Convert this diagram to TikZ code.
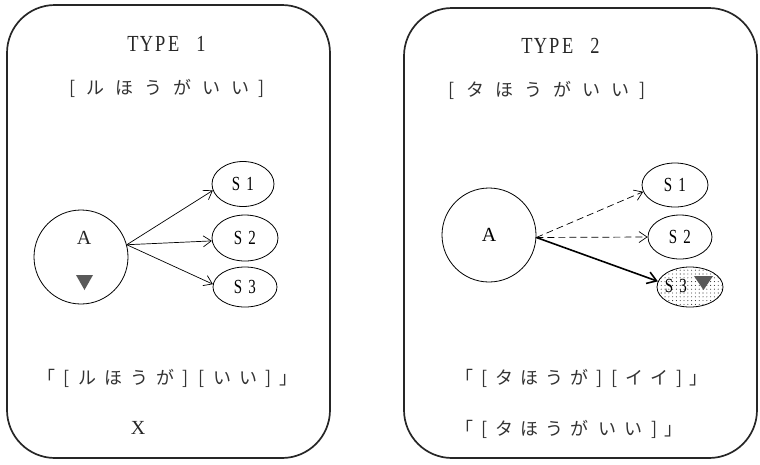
\documentclass[tikz,border=0pt]{standalone}
\usepackage{fontspec}
\setmainfont{Liberation Serif}
\newfontfamily\jp{Noto Sans CJK JP}
\usetikzlibrary{arrows.meta,patterns,shapes.geometric}

% sparse dot fill for the chosen state
\pgfdeclarepatternformonly{sdots}{\pgfpoint{-1pt}{-1pt}}{\pgfpoint{1pt}{1pt}}{\pgfpoint{3.8pt}{3.8pt}}%
  {\pgfpathcircle{\pgfpointorigin}{0.55pt}\pgfusepath{fill}}

% fixed-pitch typesetting: each character is centred in its own cell;
% brackets get a narrower cell than the kana
\newlength\cellw
\newlength\brw
\newlength\tmpw
\makeatletter
\def\spaced#1#2#3#4{\setlength\cellw{#1}\setlength\brw{#2}\def\cellscale{#3}\spaced@i#4\relax}
\def\spaced@i#1{\ifx#1\relax\else\spaced@cell{#1}\expandafter\spaced@i\fi}
\def\spaced@cell#1{\setlength\tmpw{\cellw}%
  \ifx#1[\setlength\tmpw{\brw}\fi
  \ifx#1]\setlength\tmpw{\brw}\fi
  \ifx#1｢\setlength\tmpw{\brw}\fi
  \ifx#1｣\setlength\tmpw{\brw}\fi
  \makebox[\tmpw]{\scalebox{\cellscale}[1]{#1}}}
\makeatother

\tikzset{
  panel/.style={draw=black!85, line width=1.7pt, rounded corners=48pt},
  jptext/.style={font=\jp\fontsize{18}{18}\selectfont, inner sep=0pt, text=black!80},
  head/.style={font=\fontsize{23}{23}\selectfont, inner sep=0pt, text=black!85},
  roman/.style={font=\fontsize{20}{20}\selectfont, inner sep=0pt, text=black!85},
  bigcirc/.style={draw, circle, minimum size=94pt, inner sep=0pt, line width=0.8pt},
  sbox/.style={draw, ellipse, inner sep=0pt, line width=0.8pt, font=\fontsize{20}{20}\selectfont},
  slabel/.style={font=\fontsize{20}{20}\selectfont, inner sep=0pt},
  arr/.style={line width=0.7pt, -{Straight Barb[length=8pt,width=11pt]}},
  darr/.style={arr, dash pattern=on 7pt off 4pt},
  barr/.style={line width=1.6pt, -{Straight Barb[length=9pt,width=12pt]}},
  marker/.style={fill=black!65},
}

\begin{document}
\begin{tikzpicture}[x=1pt, y=-1pt]
\useasboundingbox (0,0) rectangle (760,464);

% ---------- panel 1 ----------
\draw[panel] (7,5) rectangle (330,458);
\node[head] (h1) at (167,44) {\spaced{13.6pt}{13.6pt}{0.8}{TYPE~1}};
\node[jptext] (q1) at (167.5,88) {\spaced{29pt}{15pt}{1}{[ルほうがいい]}};

\node[bigcirc] (A1) at (81,257) {};
\node[roman] (A1l) at (84,238) {A};
\fill[marker] (76,275) -- (93,275) -- (84.5,290) -- cycle;

\node[sbox, minimum width=62pt, minimum height=45pt] (S11) at (243,184) {\spaced{14pt}{14pt}{0.75}{S1}};
\node[sbox, minimum width=66pt, minimum height=46pt] (S12) at (245,238) {\spaced{14pt}{14pt}{0.75}{S2}};
\node[sbox, minimum width=64pt, minimum height=40pt] (S13) at (245,287) {\spaced{14pt}{14pt}{0.75}{S3}};

\coordinate (o1) at (A1.15);
\draw[arr] (o1) -- (S11.192);
\draw[arr] (o1) -- (S12.185);
\draw[arr] (o1) -- (S13.175);

\node[jptext] (r1) at (167.5,378) {\spaced{26pt}{15.5pt}{1}{｢[ルほうが][いい]｣}};
\node[roman] (x1) at (138,428) {X};

% ---------- panel 2 ----------
\draw[panel] (404,8) rectangle (757,458);
\node[head] (h2) at (561,46) {\spaced{13.6pt}{13.6pt}{0.8}{TYPE~2}};
\node[jptext] (q2) at (547.5,90) {\spaced{29pt}{17pt}{1}{[タほうがいい]}};

\node[bigcirc, font=\fontsize{20}{20}\selectfont] (A2) at (489,235) {A};

\node[sbox, minimum width=66pt, minimum height=44pt] (S21) at (675,185) {\spaced{14pt}{14pt}{0.75}{S1}};
\node[sbox, minimum width=64pt, minimum height=44pt] (S22) at (680,237) {\spaced{14pt}{14pt}{0.75}{S2}};
\node[sbox, minimum width=66pt, minimum height=40pt, pattern=sdots, pattern color=black!80] (S23) at (690,287) {};
\node[slabel] (S23l) at (676,286) {\spaced{14pt}{14pt}{0.75}{S3}};
\fill[marker] (694,276) -- (713,276) -- (703.5,290) -- cycle;

\coordinate (o2) at (A2.-3);
\draw[darr] (o2) -- (S21.192);
\draw[darr] (o2) -- (S22.west);
\draw[barr] (o2) -- (S23.170);

\node[jptext, anchor=west] (r2) at (461.5,378) {\spaced{25pt}{15pt}{1}{｢[タほうが][イイ]｣}};
\node[jptext, anchor=west] (r3) at (461.5,429) {\spaced{25pt}{15pt}{1}{｢[タほうが}\hspace{3pt}\spaced{26pt}{15pt}{1}{いい]｣}};
\end{tikzpicture}
\end{document}
